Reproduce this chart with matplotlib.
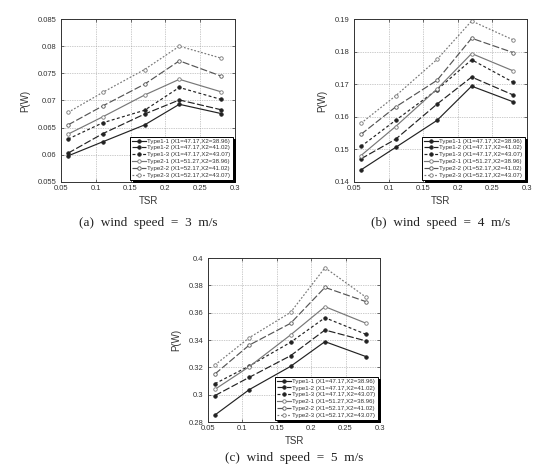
import matplotlib
matplotlib.use("Agg")
import matplotlib.pyplot as plt
import numpy as np

tsr = [0.06, 0.11, 0.17, 0.22, 0.28]
series_names = [
    "Type1-1 (X1=47.17,X2=38.96)",
    "Type1-2 (X1=47.17,X2=41.02)",
    "Type1-3 (X1=47.17,X2=43.07)",
    "Type2-1 (X1=51.27,X2=38.96)",
    "Type2-2 (X1=52.17,X2=41.02)",
    "Type2-3 (X1=52.17,X2=43.07)",
]

# wind speed 3 m/s
p3_t11 = [0.0598, 0.0624, 0.0655, 0.0693, 0.0676]
p3_t12 = [0.0603, 0.0639, 0.0675, 0.0701, 0.0683]
p3_t13 = [0.0629, 0.0659, 0.0682, 0.0724, 0.0702]
p3_t21 = [0.0638, 0.0670, 0.0710, 0.0739, 0.0716]
p3_t22 = [0.0655, 0.0690, 0.0730, 0.0773, 0.0745]
p3_t23 = [0.0678, 0.0715, 0.0757, 0.0800, 0.0778]

# wind speed 4 m/s
p4_t11 = [0.1437, 0.1506, 0.1589, 0.1694, 0.1646]
p4_t12 = [0.1471, 0.1531, 0.1639, 0.1722, 0.1667]
p4_t13 = [0.1509, 0.1589, 0.1683, 0.1775, 0.1706]
p4_t21 = [0.1481, 0.1570, 0.1685, 0.1794, 0.1741]
p4_t22 = [0.1546, 0.1630, 0.1712, 0.1841, 0.1797]
p4_t23 = [0.1580, 0.1664, 0.1776, 0.1894, 0.1836]

# wind speed 5 m/s
p5_t11 = [0.2851, 0.3037, 0.3207, 0.3388, 0.3278]
p5_t12 = [0.2993, 0.3127, 0.3285, 0.3473, 0.3393]
p5_t13 = [0.3080, 0.3210, 0.3383, 0.3563, 0.3441]
p5_t21 = [0.3039, 0.3205, 0.3437, 0.3644, 0.3522]
p5_t22 = [0.3151, 0.3363, 0.3522, 0.3785, 0.3680]
p5_t23 = [0.3217, 0.3417, 0.3602, 0.3929, 0.3712]

captions = ["(a)  wind  speed  =  3  m/s",
            "(b)  wind  speed  =  4  m/s",
            "(c)  wind  speed  =  5  m/s"]
xticks = [0.05, 0.1, 0.15, 0.2, 0.25, 0.3]
xticklabels = ["0.05", "0.1", "0.15", "0.2", "0.25", "0.3"]
yticks3 = [0.055, 0.06, 0.065, 0.07, 0.075, 0.08, 0.085]
yticklabels3 = ["0.055", "0.06", "0.065", "0.07", "0.075", "0.08", "0.085"]
yticks4 = [0.14, 0.15, 0.16, 0.17, 0.18, 0.19]
yticklabels4 = ["0.14", "0.15", "0.16", "0.17", "0.18", "0.19"]
yticks5 = [0.28, 0.30, 0.32, 0.34, 0.36, 0.38, 0.40]
yticklabels5 = ["0.28", "0.3", "0.32", "0.34", "0.36", "0.38", "0.4"]

plt.rcParams['font.family'] = ['Liberation Sans', 'DejaVu Sans']

styles = [
    dict(color="#222222", ls="-", marker="o", mfc="#222222", mec="#222222"),
    dict(color="#222222", ls=(0, (6, 2)), marker="o", mfc="#222222", mec="#222222"),
    dict(color="#222222", ls=(0, (2.5, 2)), marker="o", mfc="#222222", mec="#222222"),
    dict(color="#777777", ls="-", marker="o", mfc="white", mec="#777777"),
    dict(color="#555555", ls=(0, (6, 2)), marker="o", mfc="white", mec="#555555"),
    dict(color="#777777", ls=(0, (1.5, 1.5)), marker="o", mfc="white", mec="#777777"),
]

W, H = 538, 469
fig = plt.figure(figsize=(W / 100, H / 100), dpi=100)

panels = [
    ((61, 19, 235, 182), [p3_t11, p3_t12, p3_t13, p3_t21, p3_t22, p3_t23],
     (0.055, 0.085), yticks3, yticklabels3, captions[0], 223),
    ((354, 19, 527, 182), [p4_t11, p4_t12, p4_t13, p4_t21, p4_t22, p4_t23],
     (0.14, 0.19), yticks4, yticklabels4, captions[1], 223),
    ((208, 258, 380, 422), [p5_t11, p5_t12, p5_t13, p5_t21, p5_t22, p5_t23],
     (0.28, 0.40), yticks5, yticklabels5, captions[2], 458),
]

for (x0, y0, x1, y1), data, ylim, yt, ytl, cap, capy in panels:
    ax = fig.add_axes([x0 / W, 1 - y1 / H, (x1 - x0) / W, (y1 - y0) / H])
    for vals, name, st in zip(data, series_names, styles):
        ax.plot(tsr, vals, label=name, lw=0.85, ms=2.5, mew=0.6, **st)
    ax.set_xlim(0.05, 0.3)
    ax.set_ylim(*ylim)
    ax.set_xticks(xticks)
    ax.set_xticklabels(xticklabels)
    ax.set_yticks(yt)
    ax.set_yticklabels(ytl)
    ax.grid(True, color="#999999", ls=(0, (1, 1.5)), lw=0.5)
    ax.tick_params(direction="in", top=True, right=True, length=2.5, width=0.5,
                   labelsize=5.5, colors="#333333", labelcolor="#333333")
    ax.tick_params(axis="x", pad=2.5)
    ax.tick_params(axis="y", pad=3.5)
    for s in ax.spines.values():
        s.set_linewidth(0.7)
        s.set_color("#333333")
    ax.set_xlabel("TSR", fontsize=7, labelpad=2.5, color="#333333")
    ax.set_ylabel("P(W)", fontsize=7, labelpad=5, color="#333333")
    leg = ax.legend(loc="lower right", fontsize=4.4, frameon=True, fancybox=False,
                    shadow={'color': 'black', 'alpha': 1}, handlelength=2.2,
                    handletextpad=0.3, borderpad=0.3, labelspacing=0.25,
                    borderaxespad=0.4)
    leg.get_frame().set_edgecolor("black")
    leg.get_frame().set_linewidth(0.7)
    for t in leg.get_texts():
        t.set_color("#333333")
    cx = ((x0 + x1) / 2) / W
    fig.text(cx, 1 - capy / H, cap, ha="center", va="center", fontsize=9.5,
             family=["Liberation Serif", "DejaVu Serif"], color="#222222")

fig.savefig("out.png", dpi=100)
